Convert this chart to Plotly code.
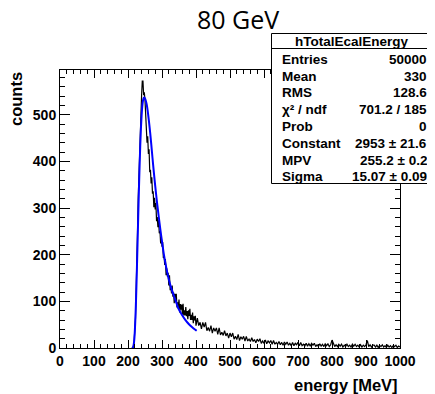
import plotly.graph_objects as go

# ---------------- data ----------------
# histogram: bin centres (MeV) and counts
energy_fine = list(range(210, 401, 2))
counts_fine = [
    0, 0, 0, 5, 12, 40, 64, 126, 168, 248,
    320, 365, 448, 472, 540, 542, 572, 572, 542, 548,
    531, 485, 488, 440, 454, 416, 426, 377, 382, 353,
    366, 331, 336, 302, 322, 297, 311, 272, 281, 259,
    274, 246, 251, 224, 238, 217, 227, 193, 198, 178,
    191, 156, 171, 153, 161, 134, 156, 124, 132, 117,
    134, 110, 119, 96, 116, 101, 116, 87, 98, 85,
    104, 76, 94, 82, 93, 72, 95, 70, 81, 70,
    88, 68, 79, 62, 81, 69, 84, 60, 71, 60,
    76, 53, 68, 59, 69, 48,
]
energy_coarse = list(range(404, 1001, 4))
counts_coarse = [
    64, 48, 55, 41, 55, 45, 55, 37, 44, 36,
    48, 32, 43, 36, 43, 29, 43, 28, 34, 27,
    37, 26, 32, 21, 32, 24, 32, 19, 25, 18,
    29, 16, 24, 19, 25, 15, 25, 15, 19, 14,
    22, 14, 18, 11, 19, 14, 20, 10, 15, 10,
    17, 9, 15, 11, 16, 8, 16, 8, 12, 8,
    14, 7, 12, 6, 13, 8, 13, 6, 10, 5,
    12, 5, 10, 7, 12, 5, 12, 5, 8, 4,
    10, 4, 9, 4, 10, 6, 10, 3, 7, 3,
    9, 4, 8, 3, 9, 5, 9, 3, 7, 17,
    8, 3, 7, 3, 8, 4, 8, 2, 6, 3,
    8, 3, 6, 2, 8, 4, 8, 3, 6, 2,
    7, 2, 6, 3, 7, 16, 3, 7, 2, 6,
    6, 2, 6, 1, 6, 3, 7, 2, 5, 1,
    6, 2, 5, 1, 5, 3, 6, 1, 4, 2,
]

# Landau fit curve
fit_energy = [214, 216, 218, 220, 222, 224, 226, 228, 230, 232, 234, 236, 238, 240,
              242, 244, 246, 248, 250, 252, 255, 258, 261, 264, 267, 270, 274, 278,
              282, 286, 290, 295, 300, 305, 310, 316, 323, 330, 338, 348, 358, 368,
              378, 388, 398, 402]
fit_counts = [0, 4, 14, 35, 68, 112, 165, 222, 280, 336, 388, 433, 470, 498,
              518, 530, 536, 537, 535, 531, 522, 508, 490, 470, 448, 424, 392, 362,
              334, 308, 284, 255, 228, 203, 182, 160, 139, 122, 106, 85, 72, 61,
              52, 45, 39, 37]

x_tick_values = list(range(0, 1001, 100))
y_tick_values = list(range(0, 501, 100))

stat_header = "hTotalEcalEnergy"
stat_labels = ["Entries", "Mean", "RMS", "χ² / ndf", "Prob",
               "Constant", "MPV", "Sigma"]
stat_values = ["50000", "330", "128.6", "701.2 / 185", "0",
               "2953 ± 21.6", "255.2 ± 0.2", "15.07 ± 0.09"]

title_text = "80 GeV"
x_title = "energy [MeV]"
y_title = "counts"

# ---------------- layout geometry ----------------
# the page body has an 8 px margin, so the figure is drawn 8 px in from the corner
OFF = 8
W_FIG, H_FIG = 435 - OFF, 394 - OFF
L, R, T, B = 60, 400, 70, 348          # frame in screenshot pixels
PW, PH = R - L, B - T


def px_x(px):
    return (px - L) / PW


def px_y(py):
    return (B - py) / PH


FONT = "Liberation Sans, Arial, Helvetica, sans-serif"

fig = go.Figure()
fig.add_trace(go.Scatter(
    x=energy_fine + energy_coarse, y=counts_fine + counts_coarse,
    mode="lines", line=dict(color="black", width=1.2), hoverinfo="skip",
    showlegend=False))
fig.add_trace(go.Scatter(
    x=fit_energy, y=fit_counts, mode="lines",
    line=dict(color="#0000ff", width=2, shape="spline", smoothing=0.6),
    hoverinfo="skip", showlegend=False))

axis_common = dict(
    showline=True, linecolor="black", linewidth=1, mirror="allticks",
    ticks="inside", tickcolor="black", tickwidth=1,
    showgrid=False, zeroline=False,
    tickfont=dict(family=FONT, size=14, color="black", weight="bold"),
)
fig.update_xaxes(range=[0, 1000], tickvals=x_tick_values, ticklen=8,
                 minor=dict(dtick=20, ticklen=4, ticks="inside", tickcolor="black"),
                 **axis_common)
fig.update_yaxes(range=[0, 596], tickvals=y_tick_values, ticklen=10,
                 minor=dict(dtick=20, ticklen=5, ticks="inside", tickcolor="black"),
                 **axis_common)

shapes = [
    dict(type="rect", xref="paper", yref="paper", layer="above",
         x0=px_x(271.5), x1=px_x(432.5), y0=px_y(183.5), y1=px_y(33.5),
         line=dict(color="black", width=1), fillcolor="white"),
    dict(type="line", xref="paper", yref="paper", layer="above",
         x0=px_x(271.5), x1=px_x(432.5), y0=px_y(48.5), y1=px_y(48.5),
         line=dict(color="black", width=1)),
]

annotations = [
    dict(text=title_text, xref="paper", yref="paper", x=px_x(237.5), y=px_y(18.5),
         xanchor="center", yanchor="middle", showarrow=False,
         font=dict(family="Open Sans, sans-serif", size=25, color="black")),
    dict(text=x_title, xref="paper", yref="paper", x=px_x(400), y=px_y(385),
         xanchor="right", yanchor="middle", showarrow=False,
         font=dict(family=FONT, size=16.5, color="black", weight="bold")),
    dict(text=y_title, xref="paper", yref="paper", x=px_x(16), y=px_y(70),
         xanchor="center", yanchor="top", textangle=-90, showarrow=False,
         font=dict(family=FONT, size=16.5, color="black", weight="bold")),
    dict(text=stat_header, xref="paper", yref="paper", x=px_x(352), y=px_y(41.5),
         xanchor="center", yanchor="middle", showarrow=False,
         font=dict(family=FONT, size=13.5, color="black", weight="bold")),
]
row_y = [59.3, 76.1, 92.9, 109.6, 126.4, 143.2, 160.0, 176.7]
for lab, val, yy in zip(stat_labels, stat_values, row_y):
    annotations.append(dict(text=lab, xref="paper", yref="paper", x=px_x(279.5), y=px_y(yy),
                            xanchor="left", yanchor="middle", showarrow=False,
                            font=dict(family=FONT, size=13.5, color="black", weight="bold")))
    annotations.append(dict(text=val, xref="paper", yref="paper", x=px_x(428.5), y=px_y(yy),
                            xanchor="right", yanchor="middle", showarrow=False,
                            font=dict(family=FONT, size=13.5, color="black", weight="bold")))

fig.update_layout(
    width=W_FIG, height=H_FIG,
    margin=dict(l=L - OFF, r=W_FIG - (R - OFF), t=T - OFF, b=H_FIG - (B - OFF), pad=0),
    paper_bgcolor="white", plot_bgcolor="white",
    shapes=shapes, annotations=annotations, showlegend=False,
)

fig.write_html("out.html")
